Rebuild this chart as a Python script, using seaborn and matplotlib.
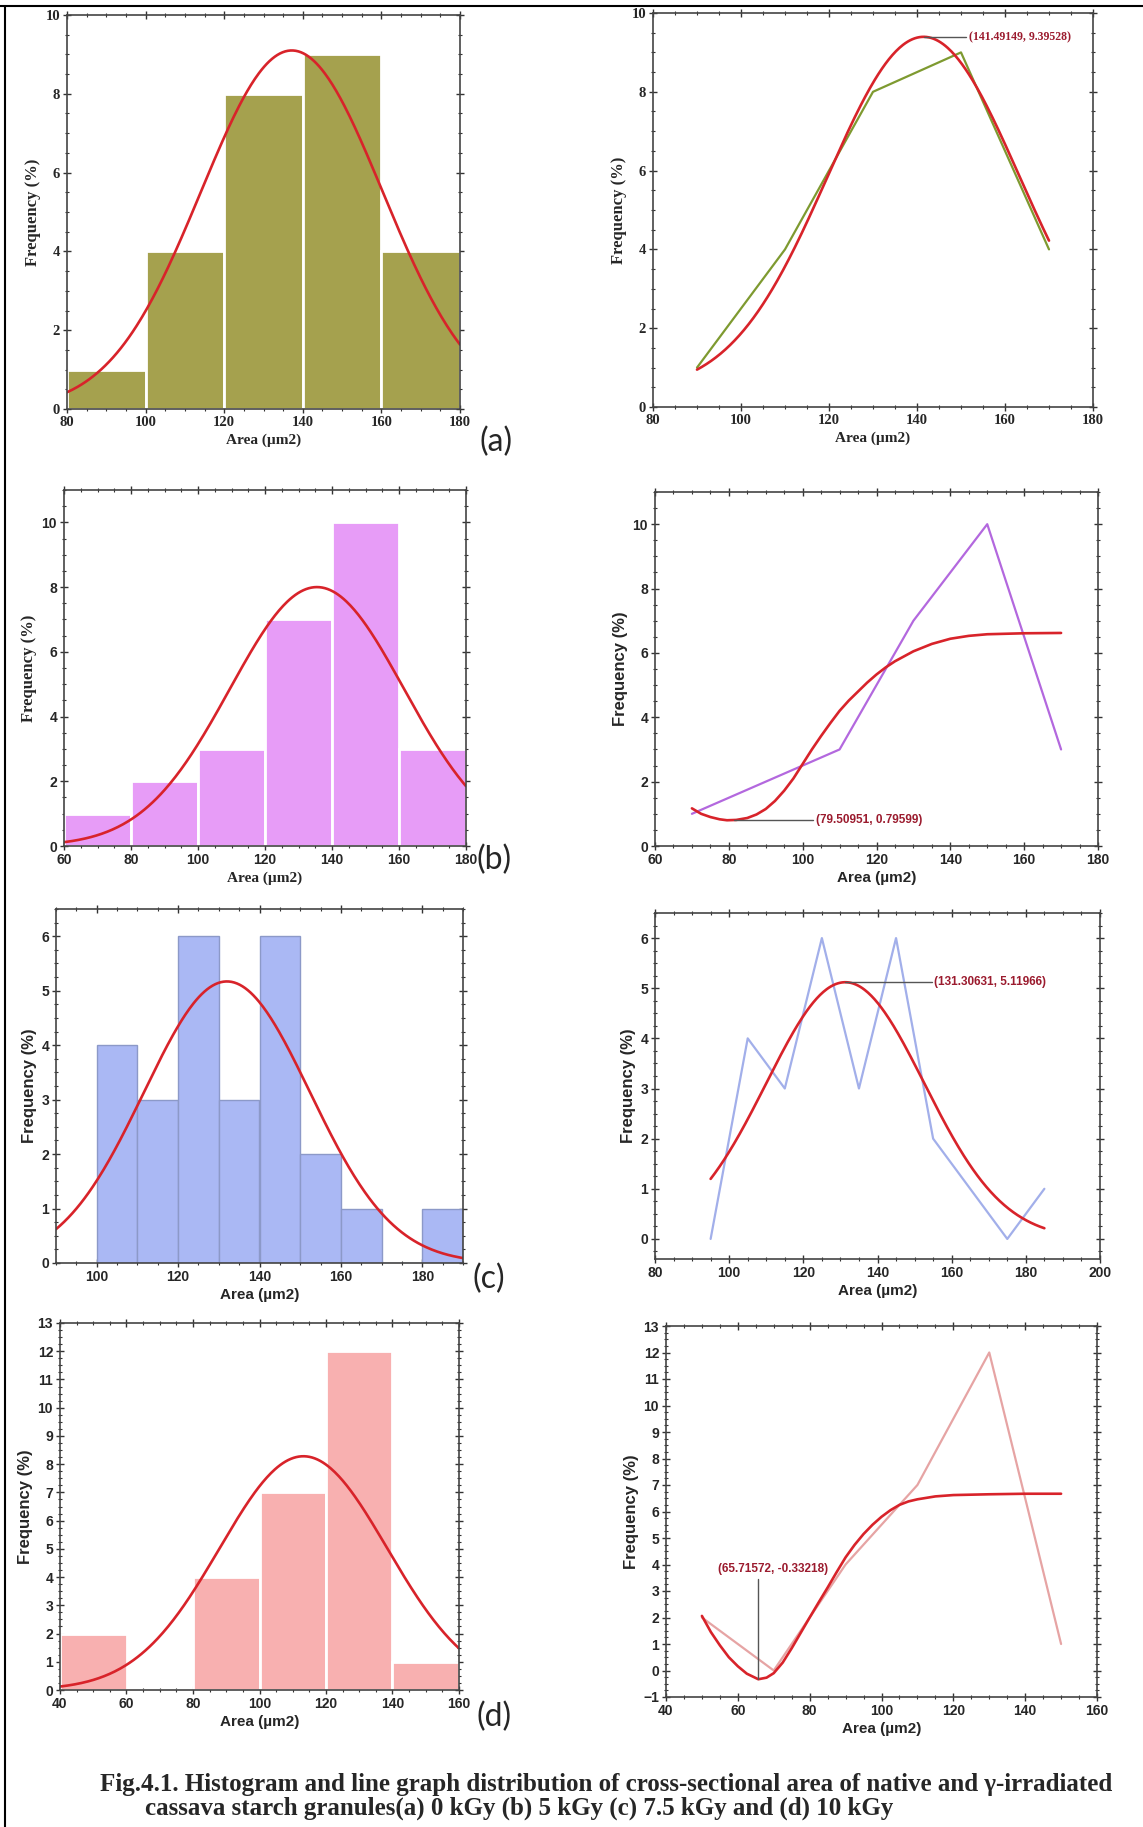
import numpy as np
import matplotlib
matplotlib.use("Agg")
import matplotlib.pyplot as plt
from matplotlib.lines import Line2D
from matplotlib.ticker import MultipleLocator, AutoMinorLocator
import seaborn as sns

# ---------------- data ----------------
# (a) 0 kGy
a_edges = [80, 100, 120, 140, 160, 180]
a_freq = [1, 4, 8, 9, 4]
a_mid = [90, 110, 130, 150, 170]
a_line = [1, 4, 8, 9, 4]
a_hist_fit = dict(center=137.2, sd=23.1, amp=9.1, base=0.0, xmin=80, xmax=180)
a_line_fit = dict(center=141.49149, sd=21.8, amp=9.0, base=0.39528, xmin=90, xmax=170)
a_peak = (141.49149, 9.39528)

# (b) 5 kGy
b_edges = [60, 80, 100, 120, 140, 160, 180]
b_freq = [1, 2, 3, 7, 10, 3]
b_mid = [70, 90, 110, 130, 150, 170]
b_line = [1, 2, 3, 7, 10, 3]
b_hist_fit = dict(center=135.5, sd=26.0, amp=8.0, base=0.0, xmin=60, xmax=180)
b_fit_x = [70, 72.5, 75, 77.5, 79.5, 82, 85, 87.5, 90, 92.5, 95, 97.5, 100, 102.5, 105, 107.5, 110,
           112.5, 115, 117.5, 120, 122.5, 125, 130, 135, 140, 145, 150, 160, 170]
b_fit_y = [1.17, 1.0, 0.9, 0.83, 0.80, 0.81, 0.87, 0.98, 1.15, 1.4, 1.72, 2.1, 2.55, 3.0, 3.42, 3.82, 4.2,
           4.52, 4.8, 5.08, 5.33, 5.55, 5.74, 6.05, 6.28, 6.44, 6.53, 6.58, 6.61, 6.62]
b_min = (79.50951, 0.79599)

# (c) 7.5 kGy
c_edges = [100, 110, 120, 130, 140, 150, 160, 170, 180, 190]
c_freq = [4, 3, 6, 3, 6, 2, 1, 0, 1]
c_mid = [95, 105, 115, 125, 135, 145, 155, 165, 175, 185]
c_line = [0, 4, 3, 6, 3, 6, 2, 1, 0, 1]
c_hist_fit = dict(center=132.0, sd=20.4, amp=5.17, base=0.0, xmin=90, xmax=190)
c_line_fit = dict(center=131.30631, sd=21.3, amp=5.11966, base=0.0, xmin=95, xmax=185)
c_peak = (131.30631, 5.11966)

# (d) 10 kGy
d_edges = [40, 60, 80, 100, 120, 140, 160]
d_freq = [2, 0, 4, 7, 12, 1]
d_mid = [50, 70, 90, 110, 130, 150]
d_line = [2, 0, 4, 7, 12, 1]
d_hist_fit = dict(center=113.2, sd=25.2, amp=8.28, base=0.0, xmin=40, xmax=160)
d_fit_x = [50, 52.5, 55, 57.5, 60, 62.5, 65.7, 68, 70, 72.5, 75, 77.5, 80, 82.5, 85, 87.5, 90, 92.5,
           95, 97.5, 100, 102.5, 105, 107.5, 110, 115, 120, 130, 140, 150]
d_fit_y = [2.06, 1.45, 0.95, 0.5, 0.16, -0.12, -0.33, -0.27, -0.1, 0.3, 0.84, 1.42, 2.0, 2.57, 3.13, 3.71,
           4.27, 4.74, 5.15, 5.5, 5.8, 6.05, 6.25, 6.38, 6.46, 6.57, 6.62, 6.65, 6.67, 6.67]
d_min = (65.71572, -0.33218)

caption1 = "Fig.4.1. Histogram and line graph distribution of cross-sectional area of native and \u03b3-irradiated"
caption2 = "cassava starch granules(a) 0 kGy (b) 5 kGy (c) 7.5 kGy and (d) 10 kGy"

# ---------------- style ----------------
sns.set_style("white")
plt.rcParams["font.family"] = ["Liberation Sans", "DejaVu Sans"]
SERIF = "Liberation Serif"
SANS = "Liberation Sans"
RED = "#D8232A"
ANN = "#9B1B2E"

W, H = 1143, 1827
fig = plt.figure(figsize=(W / 100, H / 100), dpi=100)


def add_ax(l, t, r, b):
    return fig.add_axes([l / W, 1 - b / H, (r - l) / W, (b - t) / H])


def gauss_curve(p, n=300):
    xs = np.linspace(p["xmin"], p["xmax"], n)
    ys = p["base"] + p["amp"] * np.exp(-(xs - p["center"]) ** 2 / (2 * p["sd"] ** 2))
    return xs, ys


def style(ax, xlim, ylim, xmaj, ymaj, tick_font, label_font):
    ax.set_xlim(*xlim)
    ax.set_ylim(*ylim)
    ax.xaxis.set_major_locator(MultipleLocator(xmaj))
    ax.yaxis.set_major_locator(MultipleLocator(ymaj))
    ax.xaxis.set_minor_locator(AutoMinorLocator(4))
    ax.yaxis.set_minor_locator(AutoMinorLocator(4))
    ax.tick_params(which="both", direction="inout", top=True, right=True,
                   bottom=True, left=True, labeltop=False, labelright=False,
                   color="#333333")
    ax.tick_params(which="major", length=6, width=1.0, pad=2)
    ax.tick_params(which="minor", length=3, width=0.8)
    size = 10.5 if tick_font == SERIF else 10
    for lab in ax.get_xticklabels() + ax.get_yticklabels():
        lab.set_fontfamily(tick_font)
        lab.set_fontweight("bold")
        lab.set_fontsize(size)
    ax.set_xlabel("Area (\u00b5m2)", fontfamily=label_font, fontweight="bold", fontsize=11, labelpad=3)
    ax.set_ylabel("Frequency (%)", fontfamily=label_font, fontweight="bold", fontsize=12, labelpad=3)
    for s in ax.spines.values():
        s.set_color("#444444")
        s.set_linewidth(1.2)
    ax.set_facecolor("white")


def hist(ax, edges, freq, color, edge="white", lw=2.0):
    centers = [(edges[i] + edges[i + 1]) / 2 for i in range(len(freq))]
    sns.histplot(x=centers, weights=freq, bins=edges, ax=ax, color=color,
                 alpha=1, edgecolor=edge, linewidth=lw, stat="count")


def fit(ax, xs, ys, lw=1.9):
    sns.lineplot(x=xs, y=ys, ax=ax, color=RED, linewidth=lw, estimator=None, sort=False)


# ---------------- (a) ----------------
ax = add_ax(67, 15, 460, 409)
hist(ax, a_edges, a_freq, "#A5A14E")
fit(ax, *gauss_curve(a_hist_fit))
style(ax, (80, 180), (0, 10), 20, 2, SERIF, SERIF)

ax = add_ax(653, 13, 1093, 407)
sns.lineplot(x=a_mid, y=a_line, ax=ax, color="#7E9A30", linewidth=1.6)
fit(ax, *gauss_curve(a_line_fit))
ax.plot([a_peak[0], 151.2], [a_peak[1], a_peak[1]], color="#555555", lw=1.0)
ax.text(151.8, a_peak[1], f"({a_peak[0]}, {a_peak[1]})", color=ANN, fontfamily=SERIF,
        fontweight="bold", fontsize=8.5, va="center", ha="left")
style(ax, (80, 180), (0, 10), 20, 2, SERIF, SERIF)

# ---------------- (b) ----------------
ax = add_ax(64, 490, 466, 846)
hist(ax, b_edges, b_freq, "#E79CF7")
fit(ax, *gauss_curve(b_hist_fit))
style(ax, (60, 180), (0, 11), 20, 2, SANS, SERIF)

ax = add_ax(655, 492, 1098, 846)
sns.lineplot(x=b_mid, y=b_line, ax=ax, color="#B368DE", linewidth=1.6)
fit(ax, b_fit_x, b_fit_y)
ax.plot([b_min[0] + 2, 102.9], [b_min[1], b_min[1]], color="#555555", lw=1.0)
ax.text(103.5, b_min[1], f"({b_min[0]}, {b_min[1]})", color=ANN, fontfamily=SANS,
        fontweight="bold", fontsize=8.5, va="center", ha="left")
style(ax, (60, 180), (0, 11), 20, 2, SANS, SANS)

# ---------------- (c) ----------------
ax = add_ax(56, 909, 463, 1263)
hist(ax, c_edges, c_freq, "#AAB8F4", edge="#8C99C8", lw=1.0)
fit(ax, *gauss_curve(c_hist_fit))
style(ax, (90, 190), (0, 6.5), 20, 1, SANS, SANS)

ax = add_ax(655, 913, 1100, 1259)
sns.lineplot(x=c_mid, y=c_line, ax=ax, color="#A2AFEA", linewidth=1.6)
fit(ax, *gauss_curve(c_line_fit))
ax.plot([c_peak[0], 154.6], [c_peak[1], c_peak[1]], color="#555555", lw=1.0)
ax.text(155.2, c_peak[1], f"({c_peak[0]}, {c_peak[1]})", color=ANN, fontfamily=SANS,
        fontweight="bold", fontsize=8.5, va="center", ha="left")
style(ax, (80, 200), (-0.4, 6.5), 20, 1, SANS, SANS)

# ---------------- (d) ----------------
ax = add_ax(60, 1323, 459, 1690)
hist(ax, d_edges, d_freq, "#F8B0B0")
fit(ax, *gauss_curve(d_hist_fit))
style(ax, (40, 160), (0, 13), 20, 1, SANS, SANS)

ax = add_ax(666, 1326, 1097, 1697)
sns.lineplot(x=d_mid, y=d_line, ax=ax, color="#E6A4A4", linewidth=1.6)
fit(ax, d_fit_x, d_fit_y)
ax.plot([d_min[0], d_min[0]], [d_min[1], 3.45], color="#555555", lw=1.0)
ax.text(69.8, 3.83, f"({d_min[0]}, {d_min[1]})", color=ANN, fontfamily=SANS,
        fontweight="bold", fontsize=8.5, va="center", ha="center")
style(ax, (40, 160), (-1, 13), 20, 1, SANS, SANS)

# ---------------- panel labels ----------------
for lab, x, y in [("(a)", 496, 442), ("(b)", 494, 860), ("(c)", 489, 1279), ("(d)", 494, 1717)]:
    fig.text(x / W, 1 - y / H, lab, fontsize=23, fontfamily="Lato", ha="center", va="center")

# ---------------- caption & frame ----------------
fig.text(100 / W, 1 - 1785 / H, caption1, fontfamily=SERIF, fontweight="bold", fontsize=18, va="center", ha="left")
fig.text(145 / W, 1 - 1808 / H, caption2, fontfamily=SERIF, fontweight="bold", fontsize=18, va="center", ha="left")

fig.add_artist(Line2D([5 / W, 5 / W], [0, 1 - 6 / H], transform=fig.transFigure, color="black", lw=1.5))
fig.add_artist(Line2D([0, 1], [1 - 6 / H, 1 - 6 / H], transform=fig.transFigure, color="black", lw=1.5))

fig.savefig("out.png", dpi=100, facecolor="white")
